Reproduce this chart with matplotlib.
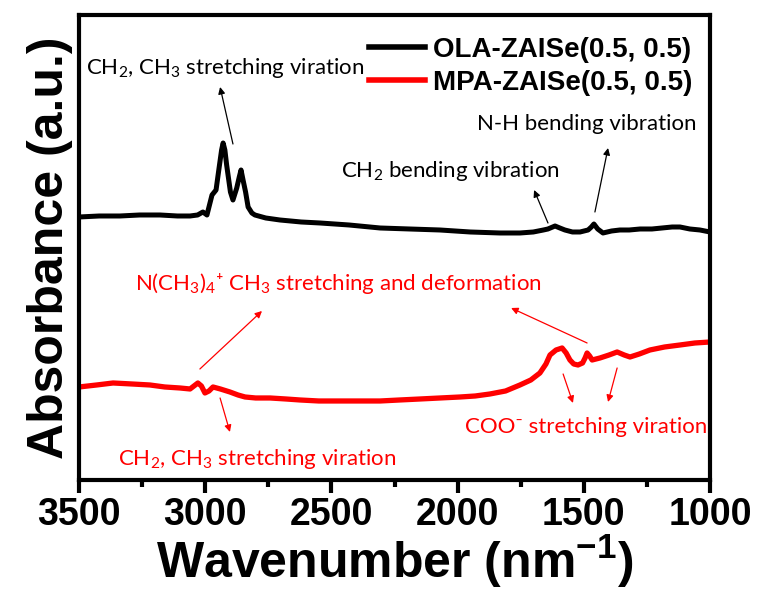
import matplotlib.pyplot as plt
import numpy as np

# wavenumber (cm-1 on the plot, labelled nm-1) and absorbance (a.u., offset traces)
ola_wn = [3500, 3420, 3338, 3260, 3179, 3110, 3060, 3030, 3009, 2993, 2973, 2957, 2945, 2935,
          2929, 2922, 2915, 2900, 2890, 2875, 2865, 2858, 2850, 2840, 2830, 2815, 2803, 2760,
          2704, 2620, 2545, 2430, 2307, 2190, 2070, 1950, 1832, 1753, 1700, 1660, 1642, 1614,
          1595, 1575, 1545, 1515, 1483, 1470, 1460, 1445, 1424, 1390, 1357, 1320, 1277, 1230,
          1190, 1150, 1119, 1080, 1040, 1000]
ola_abs = [263, 264, 264, 265, 265, 264, 264, 265, 268, 265, 285, 290, 312, 330,
           337, 330, 315, 288, 280, 292, 303, 310, 300, 288, 273, 267, 265, 262,
           260, 258, 257, 255, 252, 251, 250, 248, 247, 247, 248, 250, 251, 254,
           252, 250, 248, 248, 250, 253, 256, 251, 247, 249, 250, 250, 251, 251,
           252, 253, 253, 251, 250, 248]

mpa_wn = [3500, 3430, 3365, 3290, 3219, 3160, 3100, 3060, 3029, 3015, 3001, 2985, 2969, 2940,
          2902, 2870, 2842, 2800, 2743, 2680, 2624, 2550, 2466, 2390, 2307, 2230, 2149, 2070,
          1990, 1930, 1872, 1810, 1753, 1710, 1674, 1650, 1634, 1610, 1586, 1570, 1555, 1540,
          1523, 1505, 1495, 1487, 1477, 1467, 1436, 1400, 1368, 1340, 1317, 1280, 1238, 1180,
          1119, 1060, 1000]
mpa_abs = [93, 95, 97, 96, 95, 93, 92, 91, 97, 94, 87, 89, 93, 91,
           88, 85, 83, 82, 82, 81, 80, 79, 79, 79, 79, 80, 81, 82,
           83, 84, 86, 89, 95, 100, 107, 116, 125, 130, 132, 127, 120, 116,
           115, 117, 122, 127, 124, 120, 122, 125, 128, 125, 123, 126, 130, 133,
           135, 137, 138]

series_labels = ["OLA-ZAISe(0.5, 0.5)", "MPA-ZAISe(0.5, 0.5)"]
x_ticks = [3500, 3000, 2500, 2000, 1500, 1000]

RED = "#FF0000"
ANNOT_FONT = ["Lato", "DejaVu Sans"]
ANNOT_SIZE = 16

plt.rcParams["mathtext.default"] = "regular"

fig = plt.figure(figsize=(7.58, 5.95), dpi=100)
ax = fig.add_axes([0.1042, 0.1933, 0.8325, 0.7815])

ax.plot(ola_wn, ola_abs, color="black", lw=3.6, label=series_labels[0], solid_joinstyle="round")
ax.plot(mpa_wn, mpa_abs, color=RED, lw=3.8, label=series_labels[1], solid_joinstyle="round")

ax.set_xlim(3500, 1000)
ax.set_ylim(0, 465)
ax.set_xticks(x_ticks)
ax.set_xticks(np.arange(3250, 1000, -500), minor=True)
ax.set_yticks([])
ax.tick_params(axis="x", which="major", direction="out", length=9, width=3,
               labelsize=27, pad=3)
ax.tick_params(axis="x", which="minor", direction="out", length=5, width=3)
for lab in ax.get_xticklabels():
    lab.set_fontweight("bold")
    lab.set_family("Liberation Sans")
for sp in ax.spines.values():
    sp.set_linewidth(3)

ax.set_xlabel("Wavenumber (nm$^{-1}$)", fontsize=36, fontweight="bold",
              family="Liberation Sans", labelpad=0)
ax.set_ylabel("Absorbance (a.u.)", fontsize=36, fontweight="bold",
              family="Liberation Sans", labelpad=4)

leg = ax.legend(loc="upper right", bbox_to_anchor=(1.012, 1.006), frameon=False,
                handlelength=2.0, handletextpad=0.3, labelspacing=0.25,
                prop={"family": "Liberation Sans", "weight": "bold", "size": 20})
for line in leg.get_lines():
    line.set_linewidth(4)

# text annotations
ax.text(3472, 406, "CH$_2$, CH$_3$ stretching viration", fontsize=ANNOT_SIZE, family=ANNOT_FONT, color="black")
ax.text(2462, 303, "CH$_2$ bending vibration", fontsize=ANNOT_SIZE, family=ANNOT_FONT, color="black")
ax.text(1923, 350, "N-H bending vibration", fontsize=ANNOT_SIZE, family=ANNOT_FONT, color="black")
ax.text(3278, 190, "N(CH$_3$)$_4$\u207a CH$_3$ stretching and deformation", fontsize=ANNOT_SIZE,
        family=ANNOT_FONT, color=RED)
ax.text(3345, 15, "CH$_2$, CH$_3$ stretching viration", fontsize=ANNOT_SIZE, family=ANNOT_FONT, color=RED)
ax.text(1971, 47, "COO\u207b stretching viration", fontsize=ANNOT_SIZE, family=ANNOT_FONT, color=RED)

arrows = [
    ((2890, 336), (2941, 393), "black"),
    ((1642, 257), (1697, 290), "black"),
    ((1456, 268), (1404, 332), "black"),
    ((3021, 111), (2775, 169), RED),
    ((1487, 137), (1788, 172), RED),
    ((2941, 82), (2902, 48), RED),
    ((1582, 106), (1543, 77), RED),
    ((1368, 112), (1404, 78), RED),
]
for tail, head, col in arrows:
    ax.annotate("", xy=head, xytext=tail,
                arrowprops=dict(arrowstyle="-|>", color=col, lw=0.9, mutation_scale=10,
                                shrinkA=0, shrinkB=0))

fig.savefig("out.png", dpi=100, facecolor="white")
